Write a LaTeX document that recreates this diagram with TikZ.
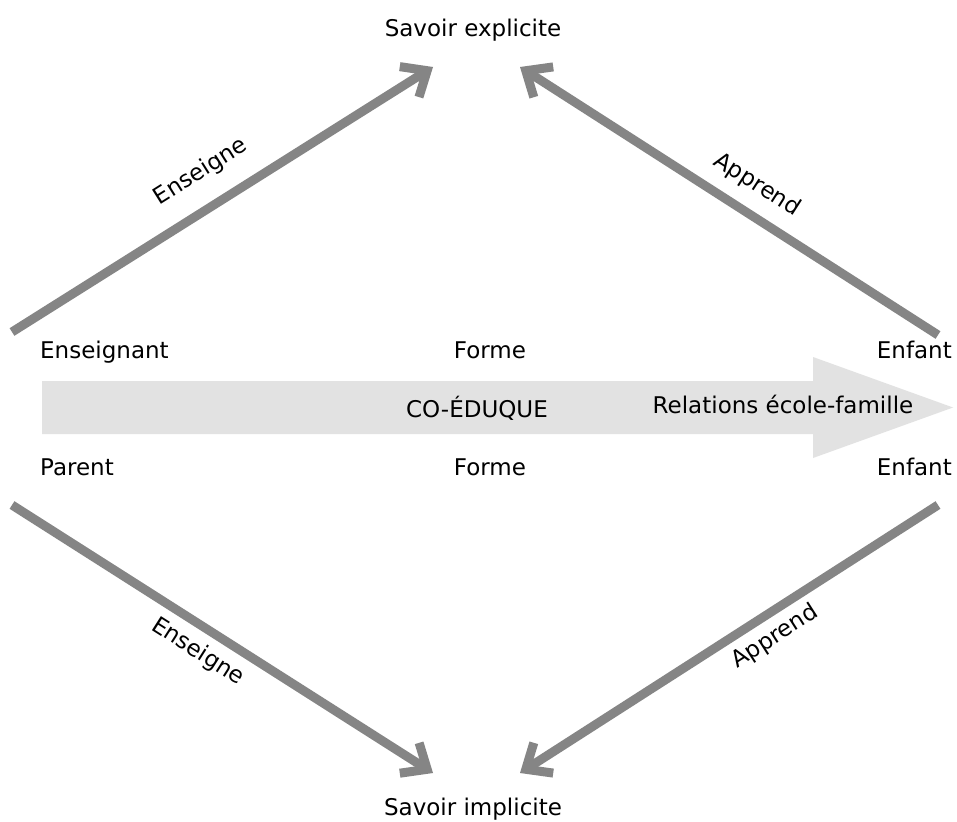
\documentclass[tikz,border=0pt]{standalone}
\usepackage{fontspec}
\setmainfont{DejaVu Sans}
\usetikzlibrary{arrows.meta}
\definecolor{armgray}{HTML}{858585}
\definecolor{bandgray}{HTML}{E2E2E2}
\begin{document}
\begin{tikzpicture}[x=1pt,y=-1pt,
  lbl/.style={inner sep=0pt, font=\fontsize{23}{27}\selectfont, anchor=base},
  arm/.style={draw=armgray, line width=9pt,
    -{Straight Barb[sharp, length=21pt, width=36pt]}},
  slopelbl/.style={inner sep=0pt, font=\fontsize{23}{27}\selectfont}]
\useasboundingbox (0,0) rectangle (957,821);
\fill[white] (0,0) rectangle (957,821);

% wide band arrow across the middle
\fill[bandgray] (42,381) -- (813,381) -- (813,357) -- (953,407.5)
  -- (813,458) -- (813,434) -- (42,434) -- cycle;

% texts
\node[lbl] (explicite) at (473,37) {Savoir explicite};
\node[lbl] (implicite) at (473,815) {Savoir implicite};
\node[lbl, anchor=base west] (enseignant) at (40,358) {Enseignant};
\node[lbl] (forme1) at (490,358) {Forme};
\node[lbl, anchor=base east] (enfant1) at (952,358) {Enfant};
\node[lbl, anchor=base west] (parent) at (40,475) {Parent};
\node[lbl] (forme2) at (490,475) {Forme};
\node[lbl, anchor=base east] (enfant2) at (952,475) {Enfant};
\node[lbl] (coeduque) at (477,417) {CO-ÉDUQUE};
\node[lbl] (relations) at (783,413) {Relations école-famille};

% arm end points
\coordinate (ulA) at (12,332);
\coordinate (ulB) at (433,67);
\coordinate (urA) at (938,335);
\coordinate (urB) at (520,67);
\coordinate (llA) at (12,505);
\coordinate (llB) at (433,773);
\coordinate (lrA) at (938,505);
\coordinate (lrB) at (520,773);

\draw[arm] (ulA) -- (ulB);
\draw[arm] (urA) -- (urB);
\draw[arm] (llA) -- (llB);
\draw[arm] (lrA) -- (lrB);

% arm labels
\node[slopelbl, rotate=32.2] (ens1) at (201,172) {Enseigne};
\node[slopelbl, rotate=-32.7] (app1) at (757,185) {Apprend};
\node[slopelbl, rotate=-32.5] (ens2) at (198,652) {Enseigne};
\node[slopelbl, rotate=32.7] (app2) at (775,637) {Apprend};
\end{tikzpicture}
\end{document}
